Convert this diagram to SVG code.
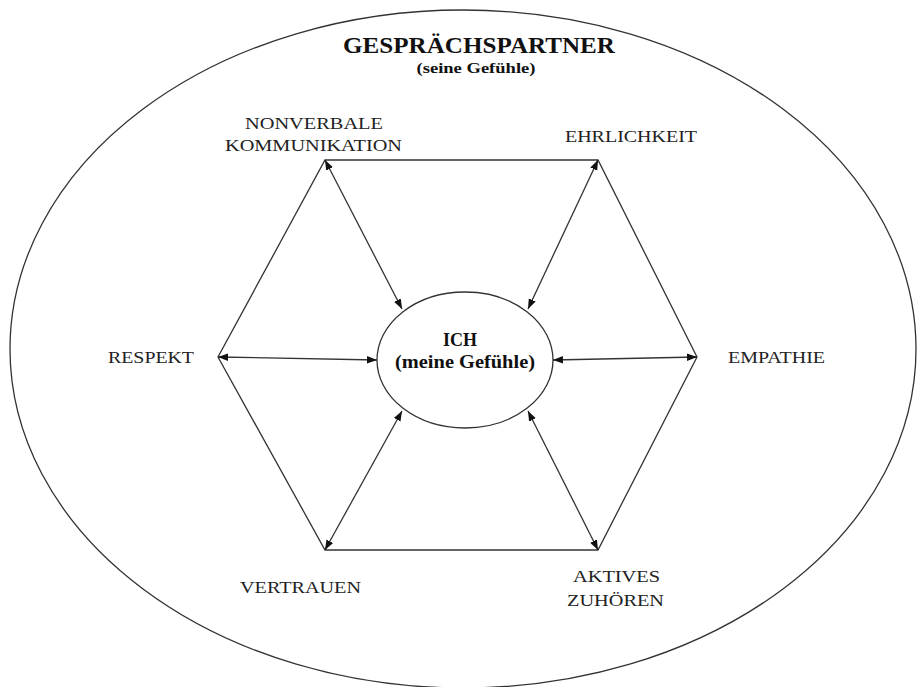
<svg xmlns="http://www.w3.org/2000/svg" width="918" height="687" viewBox="0 0 918 687">
<defs>
<marker id="ah" viewBox="0 0 10 10" refX="10" refY="5" markerWidth="10" markerHeight="10" markerUnits="userSpaceOnUse" orient="auto-start-reverse">
<path d="M0,1.2 L10,5 L0,8.8 Z" fill="#111"/>
</marker>
<style>
.lbl{font-family:"Liberation Serif","Times New Roman",serif;font-size:17px;fill:#222;text-anchor:middle}
.b{font-family:"Liberation Serif","Times New Roman",serif;font-weight:bold;fill:#111;text-anchor:middle}
.edge{stroke:#333;stroke-width:1.3;fill:none}
.arr{stroke:#333;stroke-width:1.3;fill:none;marker-start:url(#ah);marker-end:url(#ah)}
</style>
</defs>
<rect width="918" height="687" fill="#fff"/>
<g id="gespraechspartner">
<ellipse cx="463" cy="349" rx="453" ry="339" fill="none" stroke="#333" stroke-width="1.3"/>
<text class="b" x="479" y="53" font-size="23" textLength="272" lengthAdjust="spacingAndGlyphs">GESPRÄCHSPARTNER</text>
<text class="b" x="476" y="73" font-size="14" textLength="119" lengthAdjust="spacingAndGlyphs">(seine Gefühle)</text>
</g>
<g id="connectors">
<polygon class="edge" points="325,160 598,160 697,357 598,550 325,550 218,357"/>
<line class="arr" x1="325" y1="160" x2="402" y2="309"/>
<line class="arr" x1="598" y1="160" x2="528" y2="309"/>
<line class="arr" x1="218" y1="357" x2="377" y2="360"/>
<line class="arr" x1="697" y1="357" x2="553" y2="360"/>
<line class="arr" x1="325" y1="550" x2="402" y2="411"/>
<line class="arr" x1="598" y1="550" x2="528" y2="411"/>
</g>
<g id="ich">
<ellipse cx="465" cy="360" rx="88" ry="68" fill="#fff" stroke="#333" stroke-width="1.3"/>
<text class="b" x="460" y="346" font-size="19" textLength="34" lengthAdjust="spacingAndGlyphs">ICH</text>
<text class="b" x="465" y="368" font-size="19" textLength="140" lengthAdjust="spacingAndGlyphs">(meine Gefühle)</text>
</g>
<g id="nonverbale">
<text class="lbl" x="314" y="129" textLength="138" lengthAdjust="spacingAndGlyphs">NONVERBALE</text>
<text class="lbl" x="313.5" y="151" textLength="177" lengthAdjust="spacingAndGlyphs">KOMMUNIKATION</text>
</g>
<g id="ehrlichkeit"><text class="lbl" x="631" y="142" textLength="132" lengthAdjust="spacingAndGlyphs">EHRLICHKEIT</text></g>
<g id="respekt"><text class="lbl" x="151" y="363" textLength="86" lengthAdjust="spacingAndGlyphs">RESPEKT</text></g>
<g id="empathie"><text class="lbl" x="776.5" y="363" textLength="97" lengthAdjust="spacingAndGlyphs">EMPATHIE</text></g>
<g id="vertrauen"><text class="lbl" x="300.5" y="593" textLength="121" lengthAdjust="spacingAndGlyphs">VERTRAUEN</text></g>
<g id="aktives">
<text class="lbl" x="616.5" y="582" textLength="87" lengthAdjust="spacingAndGlyphs">AKTIVES</text>
<text class="lbl" x="615.5" y="606" textLength="97" lengthAdjust="spacingAndGlyphs">ZUHÖREN</text>
</g>
</svg>
